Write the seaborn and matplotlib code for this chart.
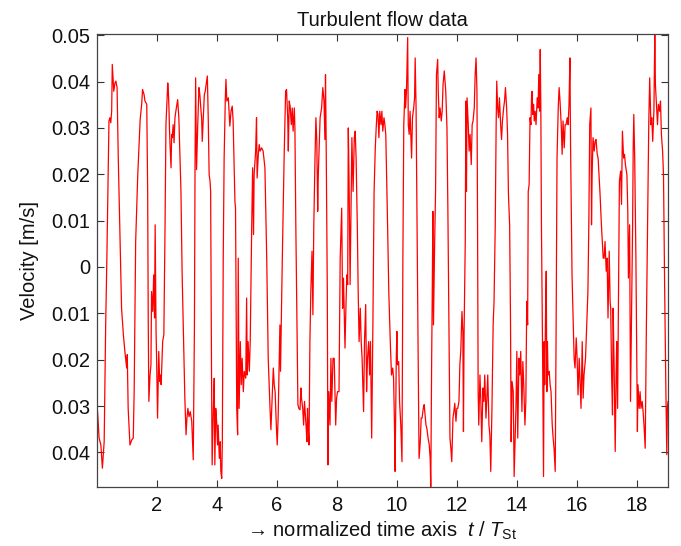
import numpy as np
import pandas as pd
import matplotlib
matplotlib.use('Agg')
import matplotlib.pyplot as plt
import seaborn as sns

# time (t / T_St) and velocity (mm/s), strip by strip
t_a = [0.00,0.02,0.07,0.13,0.18,0.24,0.29,0.33,0.38,0.40,0.43,0.46,0.49,0.51,0.56,0.60,0.63,0.67,0.71,0.77,
       0.82,0.88,0.93,0.99,1.01,1.04,1.10,1.16,1.21,1.24,1.29,1.36,1.41,1.44,1.49,1.52,1.57,1.60,1.66,1.69,
       1.71,1.73,1.77,1.80,1.82,1.86,1.89,1.92,1.94,1.97,1.99,2.02,2.06,2.09,2.12,2.14,2.19,2.23,2.27,2.30,2.33]
v_a = [-34.1,-31.2,-36.9,-38.4,-43.4,-37.7,-12.5,1.9,23.5,31.5,32.2,31.1,33.6,43.7,37.9,39.7,40.1,38.7,23.5,5.5,
       -8.9,-14.6,-18.2,-21.8,-18.9,-30.5,-38.4,-37.3,-36.9,-26.9,5.5,19.9,27.1,31.8,35.1,38.3,37.2,35.8,35.1,16.3,
       -12.5,-29.0,-23.3,-21.1,-5.3,-9.6,-1.7,-11.0,9.1,-13.9,-20.4,-32.6,-18.2,-24.7,-23.3,-25.4,-16.1,-14.6,9.1,30.7,35.1]

t_b = [2.36,2.38,2.40,2.42,2.44,2.47,2.49,2.51,2.54,2.57,2.60,2.63,2.69,2.73,2.80,2.84,2.89,2.93,2.97,3.00,
       3.03,3.07,3.11,3.16,3.21,3.25,3.27,3.29,3.32,3.36,3.40,3.43,3.47,3.49,3.51,3.54,3.58,3.61,3.64,3.68,
       3.71,3.74,3.77,3.79,3.82,3.84,3.88,3.91,3.93,3.96,3.99,4.02,4.04,4.08,4.11,4.13,4.16,4.18,4.21,4.24,
       4.28,4.30,4.33,4.38,4.43,4.47,4.51,4.54,4.60]
v_b = [39.7,37.9,34.3,29.3,25.7,21.4,28.6,27.9,30.7,26.8,32.2,33.6,36.1,32.2,16.3,-1.7,-16.1,-28.3,-36.2,-32.6,
       -30.5,-32.3,-31.2,-33.3,-41.6,-12.5,22.1,40.8,21.0,30.7,38.7,37.2,33.6,32.2,27.1,31.5,37.2,37.9,39.4,41.2,
       32.2,19.9,18.5,16.3,-23.3,-42.7,-30.5,-24.0,-42.7,-30.5,-33.3,-38.4,-34.1,-41.3,-37.7,-44.1,-45.6,-37.7,1.9,23.5,
       36.5,40.5,35.8,36.5,30.4,33.6,34.7,31.5,14.2]

t_c = [4.62,4.66,4.69,4.71,4.74,4.78,4.81,4.84,4.88,4.91,4.96,4.99,5.01,5.04,5.08,5.11,5.16,5.19,5.22,5.24,
       5.29,5.32,5.34,5.38,5.41,5.44,5.49,5.54,5.60,5.66,5.71,5.77,5.80,5.84,5.88,5.91,5.94,5.98,6.01,6.04,
       6.08,6.10,6.12,6.18,6.24,6.29,6.32,6.36,6.38,6.41,6.44,6.48,6.51,6.54,6.58,6.60,6.63,6.67,6.70,6.73,
       6.77,6.80,6.82,6.86,6.89,6.92]
v_c = [12.7,-30.5,-36.2,1.9,-30.5,-16.1,-25.4,-19.7,-26.9,-22.5,-24.0,-6.7,-23.3,-16.1,-22.5,-16.1,9.1,21.4,7.0,19.9,
       25.0,32.2,19.2,24.3,26.4,25.0,25.7,25.0,21.4,1.9,-19.7,-30.5,-35.1,-28.3,-21.8,-25.4,-26.9,-34.1,-38.4,-32.6,
       -19.7,-12.5,-22.5,1.9,23.5,37.9,38.3,32.2,25.0,35.8,34.7,30.7,34.3,29.3,34.3,30.0,9.1,-12.5,-29.7,-30.5,
       -30.8,-26.1,-28.3,-30.5,-34.1,-29.0]

t_d = [6.97,7.00,7.02,7.04,7.07,7.10,7.13,7.17,7.20,7.23,7.27,7.30,7.33,7.36,7.38,7.41,7.44,7.49,7.53,7.57,
       7.60,7.62,7.64,7.68,7.70,7.73,7.77,7.80,7.83,7.87,7.91,7.96,7.99,8.02,8.07,8.11,8.16,8.19,8.22,8.27,
       8.30,8.33,8.36,8.38,8.41,8.44,8.47,8.50,8.54,8.58,8.61,8.64,8.68,8.71,8.74,8.78,8.81,8.84,8.89,8.92,
       8.96,8.99,9.02,9.06,9.09,9.12,9.16,9.20,9.24,9.28,9.31,9.34]
v_d = [-34.1,-37.7,-30.5,-34.1,-38.4,-16.1,-5.3,3.4,-10.3,9.1,23.5,32.2,27.1,12.0,19.9,26.4,32.2,34.3,38.7,35.8,
       27.5,41.5,28.6,-5.3,-42.7,-26.9,-34.1,-19.7,-29.0,-19.7,-19.7,-34.1,-28.3,-26.9,-26.9,1.9,12.7,-8.9,-2.4,-17.5,
       -8.9,-1.7,-3.8,30.0,16.3,-3.8,12.7,27.9,16.3,27.9,29.3,23.5,9.1,-5.3,-16.1,-8.9,-16.1,-19.7,-31.2,-16.1,
       -8.1,-26.9,-19.7,-16.1,-23.3,-16.1,-36.9,-12.5,16.3,25.7,30.0,33.6]

t_e = [9.37,9.40,9.43,9.47,9.50,9.53,9.57,9.60,9.63,9.69,9.73,9.78,9.82,9.86,9.89,9.92,9.94,9.98,10.00,10.02,
       10.06,10.09,10.13,10.17,10.20,10.23,10.27,10.29,10.32,10.36,10.38,10.41,10.44,10.49,10.52,10.56,10.59,10.61,10.64,10.68,
       10.71,10.74,10.78,10.81,10.84,10.88,10.91,10.93,10.97,11.00,11.04,11.08,11.11,11.13,11.16,11.18,11.20,11.22,11.26,11.29,
       11.32,11.36,11.38,11.41,11.44,11.48,11.51,11.54,11.58]
v_e = [32.9,27.9,33.6,30.7,33.6,29.3,32.2,30.7,28.6,9.1,-5.3,-16.1,-23.3,-21.8,-24.0,-34.1,-44.1,-19.7,-13.9,-21.1,
       -20.4,-29.0,-34.1,-42.0,1.9,30.7,38.3,34.3,37.9,49.5,30.7,28.6,33.6,23.5,32.2,34.3,36.5,45.1,34.3,1.9,
       -19.7,-41.3,-37.7,-32.6,-32.6,-30.5,-29.7,-31.2,-34.1,-34.8,-36.9,-38.4,-41.3,-47.4,-19.7,-5.3,12.0,-12.5,5.5,16.3,
       41.5,44.8,37.9,32.2,34.3,31.5,33.6,39.4,42.3]

t_f = [11.63,11.67,11.70,11.73,11.77,11.80,11.83,11.87,11.90,11.93,11.97,12.00,12.03,12.07,12.10,12.13,12.17,12.20,12.22,12.24,
       12.28,12.30,12.32,12.34,12.38,12.41,12.44,12.48,12.51,12.54,12.58,12.61,12.64,12.67,12.69,12.71,12.73,12.77,12.80,12.83,
       12.87,12.90,12.93,12.97,13.00,13.03,13.07,13.10,13.13,13.17,13.21,13.24,13.28,13.31,13.33,13.36,13.39,13.42,13.46,13.49,
       13.52,13.56,13.59,13.62,13.66,13.69,13.72,13.76,13.79,13.81,13.84,13.88,13.91]
v_f = [37.9,30.0,12.7,-8.9,-36.9,-39.1,-42.0,-32.6,-31.2,-29.4,-33.3,-30.5,-30.5,-29.0,-21.1,-18.2,-9.6,-13.9,-35.5,-14.6,
       5.5,35.8,16.3,36.5,30.7,25.0,28.6,22.1,30.7,31.5,34.3,41.5,45.1,37.9,9.1,-26.9,-34.1,-23.3,-29.0,-37.7,
       -26.1,-29.0,-23.3,-32.6,-28.3,-23.3,-34.1,-36.2,-44.1,-30.5,-12.5,-7.4,9.1,30.7,40.1,34.3,32.2,36.5,30.7,27.5,
       31.5,34.3,35.8,38.7,34.3,28.6,15.6,9.1,-12.5,-37.7,-24.7,-26.9,-45.2]

t_g = [13.97,14.00,14.03,14.07,14.10,14.13,14.17,14.20,14.23,14.27,14.30,14.33,14.36,14.38,14.41,14.44,14.47,14.49,14.51,14.53,
       14.56,14.58,14.61,14.64,14.68,14.71,14.73,14.76,14.78,14.80,14.82,14.86,14.89,14.91,14.93,14.96,14.98,15.00,15.02,15.04,
       15.08,15.11,15.14,15.18,15.21,15.24,15.28,15.31,15.34,15.38,15.41,15.44,15.48,15.51,15.54,15.58,15.61,15.64,15.68,15.71,
       15.74,15.77,15.79,15.81,15.84,15.88,15.91,15.94,15.98,16.01,16.04,16.08,16.11,16.14,16.18,16.21,16.24]
v_g = [-30.5,-18.2,-36.9,-19.7,-23.3,-18.2,-31.2,-20.4,-25.4,-34.1,-29.0,-7.4,-12.5,16.3,17.8,32.2,30.7,36.5,37.9,32.9,
       35.1,31.5,33.6,30.7,36.5,34.3,41.5,33.6,46.9,34.3,9.1,-19.7,-45.2,-16.1,-25.4,-8.9,-0.9,-26.9,-16.1,-23.3,
       -22.5,-25.4,-26.9,-34.1,-36.9,-39.1,-44.1,-12.5,23.5,34.3,38.7,35.8,30.7,24.3,31.5,25.7,30.7,30.7,32.2,30.7,
       35.1,45.1,27.1,16.3,-1.7,-12.5,-19.7,-21.8,-15.3,-19.7,-27.6,-19.7,-25.4,-30.5,-16.1,-28.3,-23.3]

t_h = [16.29,16.33,16.37,16.40,16.43,16.47,16.49,16.51,16.54,16.58,16.61,16.64,16.68,16.71,16.77,16.82,16.88,16.91,16.94,16.98,
       17.01,17.04,17.08,17.11,17.13,17.16,17.19,17.21,17.24,17.28,17.31,17.33,17.36,17.39,17.42,17.46,17.49,17.52,17.56,17.59,
       17.62,17.67,17.70,17.72,17.76,17.79,17.82,17.86,17.88,17.90,17.93,17.97,18.00,18.02,18.04,18.08,18.11,18.14,18.18,18.21,
       18.24,18.28,18.32,18.37,18.40,18.43,18.47,18.50,18.53,18.57,18.60,18.62,18.66,18.69,18.72,18.76,18.79,18.82,18.86,18.89,
       18.93,18.97,19.00,19.02,19.04]
v_h = [-19.7,-12.5,-5.3,9.1,30.7,34.3,9.1,19.9,27.9,25.0,27.1,27.5,24.3,23.5,16.3,9.1,1.9,1.9,5.5,-0.9,
       1.9,-11.0,3.4,-7.4,-8.9,-23.3,-31.9,-8.9,-19.7,-39.8,-23.3,-16.1,-30.5,-5.3,18.5,20.7,13.5,29.3,23.5,24.3,
       22.1,19.9,12.0,-2.4,9.1,-29.0,-12.5,9.1,25.7,32.9,23.5,1.9,-19.7,-35.5,-25.4,-30.5,-26.9,-30.5,-29.0,-31.2,
       -34.1,-39.1,-12.5,16.3,31.5,40.8,30.7,32.2,27.1,33.6,50.2,39.4,34.3,30.7,35.1,33.6,35.8,28.6,25.0,19.9,
       -5.3,-26.9,-40.5,-30.5,-29.0]

y_ticks = [0.05, 0.04, 0.03, 0.02, 0.01, 0.0, -0.01, -0.02, -0.03, -0.04]
y_ticklabels = ['0.05', '0.04', '0.03', '0.02', '0.01', '0', '0.01', '0.02', '0.03', '0.04']
x_ticks = [2, 4, 6, 8, 10, 12, 14, 16, 18]

t = np.concatenate([t_a, t_b, t_c, t_d, t_e, t_f, t_g, t_h])
v = np.concatenate([v_a, v_b, v_c, v_d, v_e, v_f, v_g, v_h]) / 1000.0
df = pd.DataFrame({'t': t, 'v': v})

sns.set_style('ticks')
plt.rcParams['font.family'] = ['Liberation Sans', 'DejaVu Sans']
plt.rcParams['mathtext.fontset'] = 'custom'
plt.rcParams['mathtext.rm'] = 'Liberation Sans'
plt.rcParams['mathtext.it'] = 'Liberation Sans:italic'

fs = 14.5
fig = plt.figure(figsize=(6.81, 5.46), dpi=100)
ax = fig.add_axes([0.1424, 0.1086, 0.8385, 0.8286])
sns.lineplot(data=df, x='t', y='v', sort=False, estimator=None, color='#ff0000', lw=0.9, ax=ax)

ax.set_xlim(t.min(), t.max())
ax.set_ylim(v.min(), v.max())
ax.set_xticks(x_ticks)
ax.set_xticklabels([str(x) for x in x_ticks])
ax.set_yticks(y_ticks)
ax.set_yticklabels(y_ticklabels)
ax.tick_params(direction='in', length=5, width=0.8, colors='#333333', labelcolor='#111111',
               labelsize=fs, top=True, right=True)
ax.tick_params(axis='x', pad=7)
ax.tick_params(axis='y', pad=4.5)
for s in ax.spines.values():
    s.set_color('#444444')
    s.set_linewidth(0.9)

ax.set_title('Turbulent flow data', fontsize=fs, color='#111111', pad=6)
ax.set_xlabel('\u2192 normalized time axis  $t$ / $T_{\\mathrm{St}}$', fontsize=fs, color='#111111', labelpad=3)
ax.set_ylabel('Velocity [m/s]', fontsize=fs, color='#111111', labelpad=9)

fig.savefig('out.png', dpi=100)
